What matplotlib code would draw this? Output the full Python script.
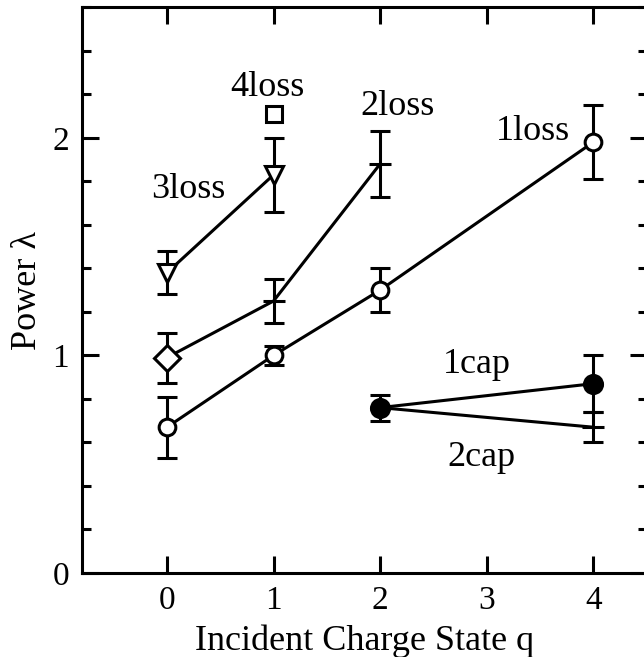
import matplotlib
matplotlib.use('Agg')
import matplotlib.pyplot as plt
from matplotlib.ticker import MultipleLocator

plt.rcParams['font.family'] = ['Liberation Serif', 'DejaVu Serif']

# data
q_1loss = [0, 1, 2, 4]
p_1loss = [0.67, 1.00, 1.30, 1.98]
e_1loss = [0.14, 0.045, 0.10, 0.17]

q_2loss = [0, 1, 2]
p_2loss = [0.99, 1.25, 1.88]
e_2loss = [0.115, 0.10, 0.15]

q_3loss = [0, 1]
p_3loss = [1.38, 1.83]
e_3loss = [0.10, 0.17]

q_4loss = [1]
p_4loss = [2.11]

q_1cap = [2, 4]
p_1cap = [0.76, 0.87]
e_1cap = [0.06, 0.13]

q_2cap = [2, 4]
p_2cap = [0.76, 0.67]
e_2cap = [0.0, 0.07]

fig = plt.figure(figsize=(6.44, 6.57), dpi=100)
ax = fig.add_axes([0.1269, 0.1279, 0.877, 0.861])

lw = 2.2
eb = dict(color='black', lw=lw, capsize=7, capthick=lw, elinewidth=lw)

# 1loss - open circles
ax.errorbar(q_1loss, p_1loss, yerr=e_1loss, marker='o', ms=12, mfc='white',
            mec='black', mew=lw, zorder=3, **eb)

# 2loss - diamond at q=0, crossbars elsewhere
ax.errorbar(q_2loss, p_2loss, yerr=e_2loss, marker='none', zorder=2, **eb)
ax.plot(q_2loss[:1], p_2loss[:1], 'D', ms=13, mfc='white', mec='black', mew=lw, zorder=4)
ax.plot(q_2loss[1:], p_2loss[1:], '_', ms=16, mec='black', mew=lw, zorder=4)

# 3loss - down triangles
ax.errorbar(q_3loss, p_3loss, yerr=e_3loss, marker='v', ms=13, mfc='white',
            mec='black', mew=lw, zorder=3, **eb)

# 4loss - single open square
ax.plot(q_4loss, p_4loss, 's', ms=11, mfc='white', mec='black', mew=lw, zorder=3)

# 2cap - line from shared point, crossbar at q=4
ax.plot(q_2cap, p_2cap, color='black', lw=lw, zorder=2)
ax.errorbar(q_2cap[1:], p_2cap[1:], yerr=e_2cap[1:], marker='_', ms=16,
            mec='black', mew=lw, zorder=2, **eb)

# 1cap - filled circles
ax.errorbar(q_1cap, p_1cap, yerr=e_1cap, marker='o', ms=13, mfc='black',
            mec='black', mew=lw, zorder=3, **eb)

# curve labels
fs = 26
ax.text(0.94, 2.19, '4loss', ha='center', va='baseline', fontsize=fs)
ax.text(2.16, 2.105, '2loss', ha='center', va='baseline', fontsize=fs)
ax.text(3.43, 1.99, '1loss', ha='center', va='baseline', fontsize=fs)
ax.text(0.20, 1.725, '3loss', ha='center', va='baseline', fontsize=fs)
ax.text(2.91, 0.918, '1cap', ha='center', va='baseline', fontsize=fs)
ax.text(2.95, 0.493, '2cap', ha='center', va='baseline', fontsize=fs)

ax.set_xlim(-0.8, 4.5)
ax.set_ylim(0, 2.6)
ax.set_xticks([0, 1, 2, 3, 4])
ax.set_yticks([0, 1, 2])
ax.yaxis.set_minor_locator(MultipleLocator(0.2))

for s in ax.spines.values():
    s.set_linewidth(lw)

ax.tick_params(which='both', direction='in', top=True, right=True,
               width=lw, labelsize=24)
ax.tick_params(which='major', length=12, pad=9)
ax.tick_params(which='minor', length=6.5)

ax.set_xlabel('Incident Charge State q', fontsize=26, labelpad=6)
ax.set_ylabel('Power λ', fontsize=26, labelpad=6)

fig.savefig('out.png', dpi=100)
